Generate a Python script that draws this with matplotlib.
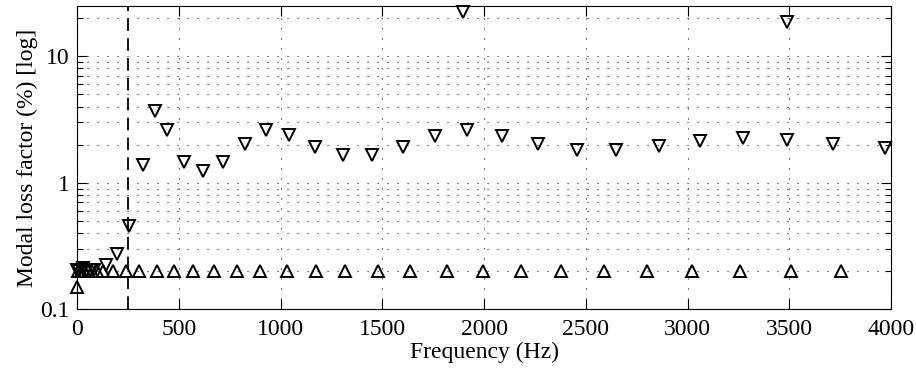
import numpy as np
import matplotlib.pyplot as plt
import matplotlib as mpl
from matplotlib.ticker import FixedLocator, LogLocator, NullFormatter

mpl.rcParams['font.family'] = 'Liberation Serif'
mpl.rcParams['font.size'] = 17

# downward triangles (first series)
freq_down = np.array([0, 12, 28, 45, 62, 85, 141, 198, 257, 324, 383, 441,
                      526, 621, 719, 827, 931, 1042, 1168, 1305, 1451, 1603, 1759,
                      1895, 1918, 2086, 2263, 2454, 2647, 2857, 3060, 3274, 3487,
                      3487, 3716, 3967])
loss_down = np.array([0.205, 0.2, 0.21, 0.2, 0.205, 0.205, 0.224, 0.272,
                      0.455, 1.39, 3.72, 2.59, 1.45, 1.23, 1.46, 2.04, 2.59, 2.40,
                      1.91, 1.67, 1.67, 1.91, 2.33, 22.4, 2.60, 2.33, 2.01, 1.81,
                      1.80, 1.94, 2.13, 2.27, 18.5, 2.17, 2.01, 1.87])

# upward triangles (second series)
freq_up = np.array([0, 6, 20, 36, 52, 72, 100, 130, 178, 243, 305, 391,
                    476, 571, 673, 785, 899, 1033, 1174, 1315, 1481, 1636, 1817,
                    1997, 2182, 2377, 2590, 2799, 3023, 3258, 3507, 3754])
loss_up = np.array([0.149, 0.2, 0.2, 0.2, 0.2, 0.2, 0.2, 0.2, 0.2,
                    0.2, 0.2, 0.2, 0.2, 0.2, 0.2, 0.2, 0.2, 0.2, 0.2, 0.2, 0.2,
                    0.2, 0.2, 0.2, 0.2, 0.2, 0.2, 0.2, 0.2, 0.2, 0.2, 0.2])

cutoff = 250

fig = plt.figure(figsize=(9.16, 3.69), dpi=100)
ax = fig.add_axes([0.084, 0.162, 0.889, 0.822])

ax.plot(freq_down, loss_down, 'v', mfc='none', mec='black', ms=9, mew=1.4,
        ls='none', clip_on=False, zorder=3)
ax.plot(freq_up, loss_up, '^', mfc='none', mec='black', ms=9, mew=1.4,
        ls='none', clip_on=False, zorder=3)
ax.axvline(cutoff, color='black', ls=(0, (7, 4)), lw=1.3)

ax.set_yscale('log')
ax.set_xlim(0, 4000)
ax.set_ylim(0.1, 25)
ax.xaxis.set_major_locator(FixedLocator(np.arange(0, 4001, 500)))
ax.set_yticks([0.1, 1, 10])
ax.set_yticklabels(['0.1', '1', '10'])
ax.yaxis.set_minor_locator(LogLocator(base=10, subs=np.arange(2, 10)))
ax.yaxis.set_minor_formatter(NullFormatter())

ax.tick_params(which='both', direction='in', top=True, right=True, width=0.8)
ax.tick_params(which='major', length=7)
ax.tick_params(axis='x', which='major', pad=7)
ax.tick_params(axis='y', which='major', pad=5)
ax.tick_params(which='minor', length=4)
ax.grid(True, which='major', axis='both', ls=(0, (1, 8)), color='#222222', lw=0.8)
ax.grid(True, which='minor', axis='y', ls=(0, (1, 8)), color='#222222', lw=0.8)

ax.set_xlabel('Frequency (Hz)', labelpad=1)
ax.set_ylabel('Modal loss factor (%) [log]', labelpad=2)

fig.savefig('out.png', dpi=100)
